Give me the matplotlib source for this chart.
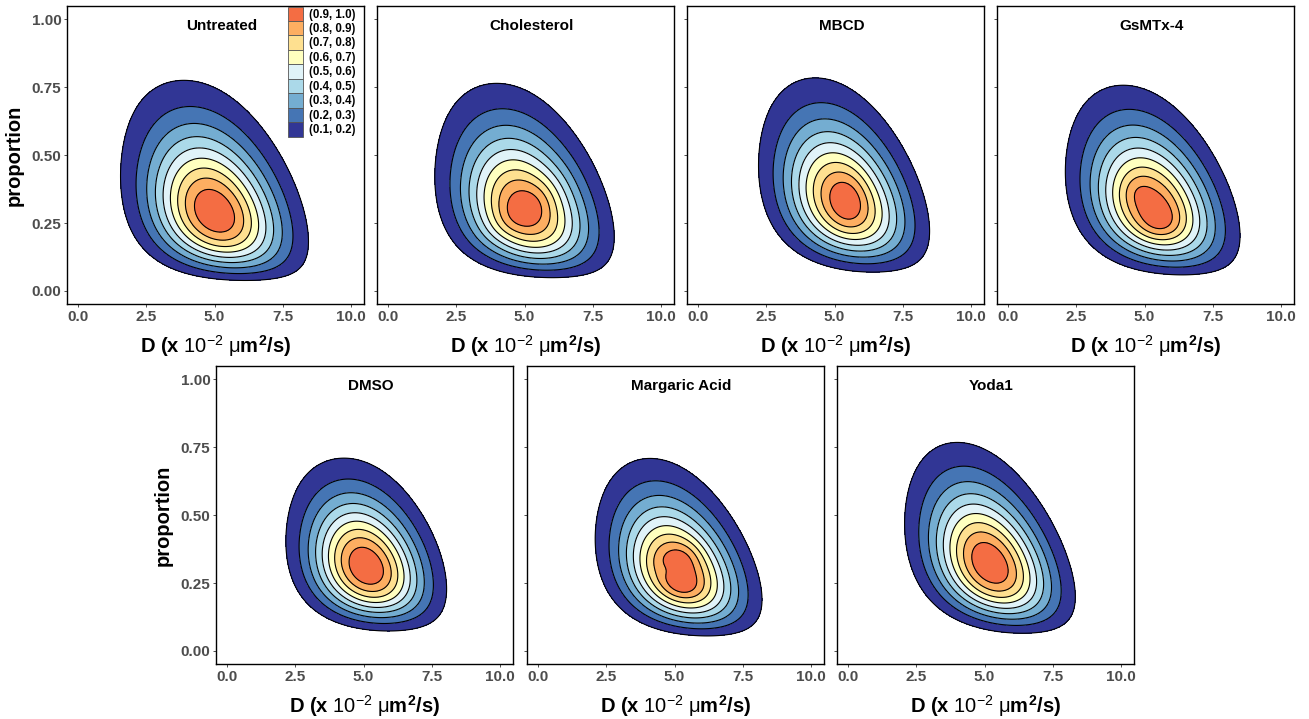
import numpy as np
import matplotlib
matplotlib.use("Agg")
import matplotlib.pyplot as plt
from matplotlib.patches import Patch

plt.rcParams["font.family"] = ["Liberation Sans", "DejaVu Sans"]
plt.rcParams["mathtext.fontset"] = "custom"
plt.rcParams["mathtext.rm"] = "Liberation Sans"
plt.rcParams["mathtext.it"] = "Liberation Sans:italic"
plt.rcParams["mathtext.bf"] = "Liberation Sans:bold"

# one entry per panel: where the density peaks and how it spreads
PANELS = ["Untreated", "Cholesterol", "MBCD", "GsMTx-4", "DMSO", "Margaric Acid", "Yoda1"]
PEAK_D = [5.0, 5.0, 5.35, 5.3, 5.1, 5.15, 5.2]
PEAK_P = [0.29, 0.30, 0.33, 0.31, 0.31, 0.29, 0.32]
SPREAD_D = [1.58, 1.53, 1.46, 1.48, 1.36, 1.41, 1.43]
SPREAD_SQRT_P = [0.157, 0.152, 0.145, 0.145, 0.132, 0.14, 0.142]
TILT = [-0.22, -0.22, -0.25, -0.25, -0.2, -0.27, -0.3]
# weight of the wider, strongly tilted tail (upper-left / lower-right)
TAIL_W = [0.14, 0.12, 0.12, 0.12, 0.1, 0.1, 0.12]

# small extra bumps near the core (panel index, centre, spread, tilt, weight)
BUMP_PANEL = [1, 2, 3, 3, 5, 5, 5]
BUMP_D = [5.0, 5.5, 5.6, 4.7, 5.3, 5.3, 4.8]
BUMP_P = [0.30, 0.33, 0.25, 0.37, 0.35, 0.235, 0.30]
BUMP_SD_D = [0.8, 0.45, 0.5, 0.35, 0.45, 0.45, 0.3]
BUMP_SD_U = [0.06, 0.06, 0.04, 0.03, 0.03, 0.03, 0.02]
BUMP_TILT = [0.6, 0.0, 0.0, 0.0, 0.0, 0.0, 0.0]
BUMP_W = [0.06, 0.08, 0.08, 0.04, 0.06, 0.06, -0.05]

LEVELS = [0.1, 0.2, 0.3, 0.4, 0.5, 0.6, 0.7, 0.8, 0.9, 1.0]
LEVEL_LABELS = ["(0.1, 0.2)", "(0.2, 0.3)", "(0.3, 0.4)", "(0.4, 0.5)", "(0.5, 0.6)",
                "(0.6, 0.7)", "(0.7, 0.8)", "(0.8, 0.9)", "(0.9, 1.0)"]
COLORS = ["#313695", "#4575B4", "#74ADD1", "#ABD9E9", "#E0F3F8",
          "#FFFFBF", "#FEE090", "#FDAE61", "#F46D43"]

X_TICKS = [0.0, 2.5, 5.0, 7.5, 10.0]
Y_TICKS = [0.00, 0.25, 0.50, 0.75, 1.00]


def gauss(dd, uu, d0, u0, sd_d, sd_u, rho):
    a = (dd - d0) / sd_d
    b = (uu - u0) / sd_u
    return np.exp(-(a * a - 2 * rho * a * b + b * b) / (2 * (1 - rho * rho)))


def density(i, dd, pp):
    uu = np.sqrt(np.clip(pp, 0, None))
    u0 = np.sqrt(PEAK_P[i])
    z = gauss(dd, uu, PEAK_D[i], u0, SPREAD_D[i], SPREAD_SQRT_P[i], TILT[i])
    z = z + TAIL_W[i] * gauss(dd, uu, PEAK_D[i], u0, 1.3 * SPREAD_D[i],
                              1.3 * SPREAD_SQRT_P[i], -0.7)
    for j, k in enumerate(BUMP_PANEL):
        if k == i:
            z = z + BUMP_W[j] * gauss(dd, uu, BUMP_D[j], np.sqrt(BUMP_P[j]),
                                      BUMP_SD_D[j], BUMP_SD_U[j], BUMP_TILT[j])
    z[pp < 0] = 0
    return z / z.max()


W, H = 1309, 719
fig = plt.figure(figsize=(W / 100, H / 100), dpi=100)

# axes boxes in pixels (left, top)
boxes = [(67, 6), (377, 6), (687, 6), (997, 6), (216, 366), (527, 366), (837, 366)]
box_w, box_h = 297, 298

d = np.linspace(-0.5, 10.5, 500)
p = np.linspace(-0.06, 1.06, 500)
dd, pp = np.meshgrid(d, p)

xlabel = r"D (x $\mathrm{10^{-2}}$ $\mathrm{\mu}$m$^{\mathbf{2}}$/s)"

for i, name in enumerate(PANELS):
    left, top = boxes[i]
    ax = fig.add_axes([left / W, 1 - (top + box_h) / H, box_w / W, box_h / H])
    z = density(i, dd, pp)
    ax.contourf(dd, pp, z, levels=LEVELS[:-1] + [1.01], colors=COLORS)
    ax.contour(dd, pp, z, levels=LEVELS[:-1], colors="black", linewidths=0.8)
    ax.set_xlim(-0.403, 10.476)
    ax.set_ylim(-0.048, 1.049)
    ax.set_xticks(X_TICKS)
    ax.set_xticklabels([f"{t:.1f}" for t in X_TICKS])
    ax.set_yticks(Y_TICKS)
    if i in (0, 4):
        ax.set_yticklabels([f"{t:.2f}" for t in Y_TICKS])
        ax.set_ylabel("proportion", fontsize=14.5, fontweight="bold", labelpad=6)
    else:
        ax.set_yticklabels([])
    ax.tick_params(length=2.5, width=0.6, color="#333333", pad=1.5,
                   labelsize=11, labelcolor="#4D4D4D")
    for lab in ax.get_xticklabels() + ax.get_yticklabels():
        lab.set_fontweight("bold")
    for s in ax.spines.values():
        s.set_linewidth(1.0)
    ax.set_xlabel(xlabel, fontsize=14.5, fontweight="bold", labelpad=7)
    ax.text(5.25, 0.975, name, ha="center", va="center", fontsize=11, fontweight="bold")

    if i == 0:
        handles = [Patch(facecolor=c, edgecolor="#555555", linewidth=0.6) for c in COLORS[::-1]]
        ax.legend(handles, LEVEL_LABELS[::-1], loc="upper left", bbox_to_anchor=(0.745, 0.998),
                  frameon=False, prop={"weight": "bold", "size": 8.3},
                  handlelength=1.3, handleheight=1.55, labelspacing=0.0,
                  handletextpad=0.5, borderaxespad=0.0, borderpad=0.0)

fig.savefig("out.png", dpi=100)
